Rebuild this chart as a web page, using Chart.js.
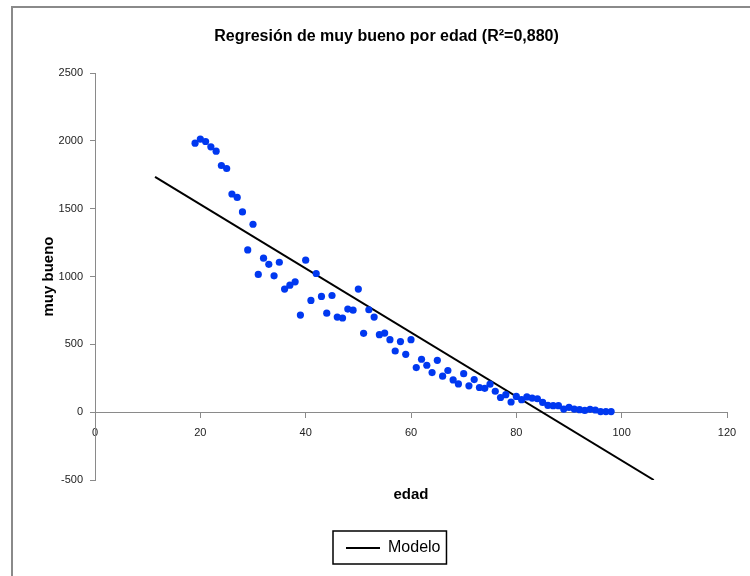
<!DOCTYPE html>
<html>
<head>
<meta charset="utf-8">
<script src="https://cdn.jsdelivr.net/npm/chart.js@4"></script>
<style>
  html, body { margin: 0; padding: 0; background: #ffffff; overflow: hidden; }
  #frame { position: absolute; left: 11px; top: 6px; width: 800px; height: 640px; border: 2px solid #8a8a8a; box-sizing: border-box; }
  #wrap { position: absolute; left: 0; top: 0; width: 750px; height: 576px; }
</style>
</head>
<body>
<div id="frame"></div>
<div id="wrap"><canvas id="c" width="750" height="576"></canvas></div>
<script>
// Data
const edad = [19,20,21,22,23,24,25,26,27,28,29,30,31,32,33,34,35,36,37,38,39,40,41,42,43,44,45,46,47,48,49,50,51,52,53,54,55,56,57,58,59,60,61,62,63,64,65,66,67,68,69,70,71,72,73,74,75,76,77,78,79,80,81,82,83,84,85,86,87,88,89,90,91,92,93,94,95,96,97,98];
const muyBueno = [1983,2013,1995,1956,1924,1818,1796,1608,1583,1476,1196,1385,1015,1135,1090,1005,1105,907,936,961,716,1120,824,1022,853,730,860,701,694,760,752,907,581,755,701,571,583,534,451,520,426,534,329,390,346,292,382,265,307,238,208,284,194,240,182,176,206,154,108,129,75,116,92,112,104,99,72,50,48,48,23,35,23,18,13,21,16,4,4,4];
// Linear model (trendline) as drawn: intercept, slope, and drawn age range
const modeloIntercepto = 2004;
const modeloPendiente = -23.6;
const modeloRango = [11.4, 106.1];
const xTicks = [0, 20, 40, 60, 80, 100, 120];
const yTicks = [-500, 0, 500, 1000, 1500, 2000, 2500];

const puntos = edad.map((e, i) => ({ x: e, y: muyBueno[i] }));
const modelo = modeloRango.map(e => ({ x: e, y: modeloIntercepto + modeloPendiente * e }));

const sans = "'Liberation Sans', Arial, sans-serif";

// Shift title and legend to be centred like the reference, and frame the legend
const legendBox = {
  id: 'legendBox',
  afterUpdate(chart) {
    const tb = chart.titleBlock;
    if (tb) { tb.left += 23; tb.right += 23; }
    const lg = chart.legend;
    if (!lg || !lg.legendHitBoxes || !lg.legendHitBoxes.length) return;
    const dx = 346 - lg.legendHitBoxes[0].left;
    lg.left += dx;
    lg.right += dx;
    lg.legendHitBoxes.forEach(h => { h.left += dx; });
  },
  afterDraw(chart) {
    const lg = chart.legend;
    if (!lg || !lg.legendHitBoxes || !lg.legendHitBoxes.length) return;
    const hb = lg.legendHitBoxes[0];
    const ctx = chart.ctx;
    ctx.save();
    ctx.strokeStyle = '#000000';
    ctx.lineWidth = 1.5;
    ctx.strokeRect(hb.left - 13, hb.top - 9, hb.width + 19, hb.height + 17);
    ctx.restore();
  }
};

new Chart(document.getElementById('c'), {
  type: 'scatter',
  data: {
    datasets: [
      {
        label: 'muy bueno',
        data: puntos,
        backgroundColor: 'rgb(0,56,240)',
        borderColor: 'rgb(0,56,240)',
        pointRadius: 3.6,
        pointBorderWidth: 0,
        xAxisID: 'x',
        yAxisID: 'y'
      },
      {
        label: 'Modelo',
        type: 'line',
        data: modelo,
        borderColor: '#000000',
        backgroundColor: '#000000',
        borderWidth: 2,
        pointRadius: 0,
        fill: false,
        xAxisID: 'x',
        yAxisID: 'y'
      }
    ]
  },
  options: {
    responsive: false,
    animation: false,
    devicePixelRatio: 1,
    layout: { padding: { left: 0, right: 23, top: 0, bottom: 10 } },
    plugins: {
      title: {
        display: true,
        text: 'Regresión de muy bueno por edad (R²=0,880)',
        color: '#000000',
        font: { family: sans, size: 16, weight: 'bold', lineHeight: 1.2 },
        padding: { top: 27, bottom: 26.8 }
      },
      legend: {
        display: true,
        position: 'bottom',
        labels: {
          filter: (item) => item.text === 'Modelo',
          usePointStyle: true,
          pointStyle: 'line',
          pointStyleWidth: 34,
          color: '#000000',
          font: { family: sans, size: 16 },
          padding: 14
        }
      },
      tooltip: { enabled: false }
    },
    scales: {
      x: {
        type: 'linear',
        position: 'bottom',
        min: 0,
        max: 120,
        ticks: { display: false },
        grid: { display: false, drawTicks: false },
        border: { display: false },
        title: {
          display: true,
          text: 'edad',
          color: '#000000',
          font: { family: sans, size: 15, weight: 'bold', lineHeight: 1.2 },
          padding: { top: 6, bottom: 22 }
        }
      },
      x2: {
        type: 'linear',
        axis: 'x',
        position: { y: 0 },
        min: 0,
        max: 120,
        afterBuildTicks: (s) => { s.ticks = xTicks.map(v => ({ value: v })); },
        ticks: { color: '#222222', font: { family: sans, size: 11 }, padding: 9, maxRotation: 0, callback: (v) => String(v) },
        grid: { drawOnChartArea: false, drawTicks: true, tickLength: 5, color: '#8a8a8a' },
        border: { display: true, color: '#8a8a8a', width: 1 }
      },
      y: {
        type: 'linear',
        position: 'left',
        min: -500,
        max: 2500,
        afterBuildTicks: (s) => { s.ticks = yTicks.map(v => ({ value: v })); },
        afterFit: (s) => { s.width = 95; },
        ticks: { color: '#222222', font: { family: sans, size: 11 }, padding: 7, callback: (v) => String(v) },
        grid: { drawOnChartArea: false, drawTicks: true, tickLength: 5, color: '#8a8a8a' },
        border: { display: true, color: '#8a8a8a', width: 1 },
        title: {
          display: true,
          text: 'muy bueno',
          color: '#000000',
          font: { family: sans, size: 15, weight: 'bold', lineHeight: 1.2 },
          padding: { top: 40, bottom: 0 }
        }
      }
    }
  },
  plugins: [legendBox]
});
</script>
</body>
</html>
